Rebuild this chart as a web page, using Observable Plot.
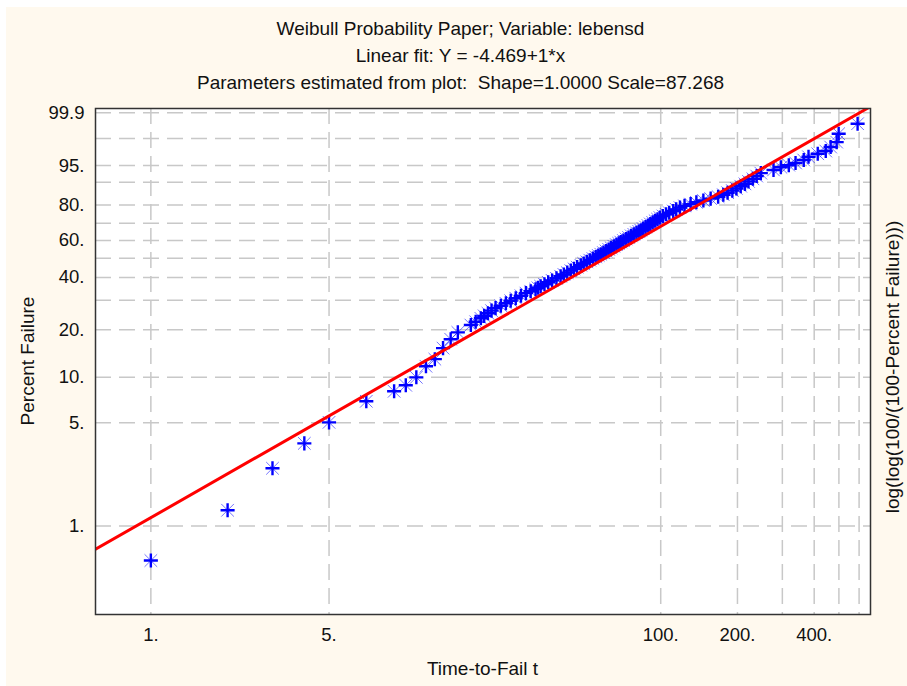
<!DOCTYPE html>
<html>
<head>
<meta charset="utf-8">
<script src="https://cdn.jsdelivr.net/npm/d3@7"></script>
<script src="https://cdn.jsdelivr.net/npm/@observablehq/plot@0.6"></script>
<style>
  body { margin: 0; background: #ffffff; }
  #wrap { position: relative; width: 907px; height: 686px; font-family: "Liberation Sans", Arial, sans-serif; color: #111; overflow: hidden; }
  #panel { position: absolute; left: 6px; top: 7px; right: 0; bottom: 0; background: #fff9ee; }
  .title { position: absolute; left: 0; width: 921px; text-align: center; font-size: 19px; line-height: 19px; white-space: pre; }
  .lab { position: absolute; font-size: 19px; line-height: 19px; white-space: nowrap; transform: translate(-50%, -50%) rotate(-90deg); }
  #xlab { position: absolute; left: 0; width: 965px; top: 659px; text-align: center; font-size: 19px; line-height: 19px; }
  #chart { position: absolute; left: 0; top: 0; }
</style>
</head>
<body>
<div id="wrap">
  <div id="panel"></div>
  <div class="title" style="top:18.9px">Weibull Probability Paper; Variable: lebensd</div>
  <div class="title" style="top:46.4px">Linear fit: Y = -4.469+1*x</div>
  <div class="title" style="top:73.4px">Parameters estimated from plot:  Shape=1.0000 Scale=87.268</div>
  <div class="lab" style="left:27px; top:361px">Percent Failure</div>
  <div class="lab" style="left:892px; top:367px">log(log(100/(100-Percent Failure)))</div>
  <div id="xlab">Time-to-Fail t</div>
  <div id="chart"></div>
</div>
<script>
const time = [
  1, 2, 3, 4, 5, 7, 9, 10, 11, 12, 13, 14, 15, 16, 18,
  18.8, 19.7, 20.3, 21.0, 21.7, 22.5, 23.6, 24.7, 25.8, 27.0, 28.3, 29.6, 30.9, 32.3,
  33.0, 33.8, 35.0, 36.2, 37.5, 39.0, 40.5, 41.7, 43.0, 44.4, 45.7, 47.0, 48.6,
  49.9, 51.3, 52.7, 54.2, 55.6, 56.9, 58.2, 59.6, 61.0, 62.5, 63.9, 65.5, 67.0, 68.4, 69.7,
  71.4, 73.1, 74.8, 76.6, 78.4, 80.3, 82.0, 83.5, 85.3, 87.2, 89.1, 91.0, 93.0, 95.1, 97.2, 99.3,
  102, 105, 108, 112, 115, 119, 124, 131, 138, 147, 157, 168,
  176, 183, 191, 198, 206, 214, 221, 230, 238, 247,
  277, 296, 318, 338, 364, 380, 413, 444, 464, 490, 499, 592
];
const percent = [
  0.58, 1.28, 2.47, 3.64, 5.04, 6.96, 8.10, 8.87, 10.0, 11.8, 13.1, 15.4, 17.5, 19.3, 21.4,
  22.4, 23.5, 24.3, 25.2, 26.1, 27.0, 27.9, 28.8, 29.8, 30.8, 31.8, 32.9, 33.7, 34.6,
  35.2, 35.9, 36.8, 37.7, 38.6, 39.6, 40.6, 41.5, 42.4, 43.4, 44.3, 45.2, 46.2,
  47.1, 48.0, 48.9, 49.8, 50.7, 51.5, 52.2, 53.1, 54.0, 54.9, 55.8, 56.7, 57.6, 58.4, 59.1,
  60.0, 60.9, 61.8, 62.7, 63.6, 64.5, 65.3, 66.0, 66.9, 67.8, 68.7, 69.6, 70.5, 71.4, 72.3, 73.2,
  74.1, 75.0, 75.9, 76.8, 77.7, 78.6, 79.5, 80.4, 81.3, 82.2, 83.1, 84.0,
  84.9, 85.8, 86.7, 87.6, 88.5, 89.4, 90.3, 91.2, 92.1, 93.0,
  93.9, 94.6, 95.1, 95.6, 96.2, 96.8, 97.3, 97.7, 98.2, 98.7, 99.3, 99.7
];

// Linear fit: Y = -4.469 + 1*x  (x = ln t, Y = ln(ln(100/(100-P))))
const fitIntercept = -4.469;
const fitSlope = 1;

// Axis ticks and grid
const tickTime = [1, 5, 100, 200, 400];
const tickTimeLabels = ["1.", "5.", "100.", "200.", "400."];
const gridTime = [1, 5, 100, 200, 300, 400, 500, 600];
const tickPercent = [99.9, 95, 80, 60, 40, 20, 10, 5, 1];
const tickPercentLabels = ["99.9", "95.", "80.", "60.", "40.", "20.", "10.", "5.", "1."];
const gridPercent = [99.9, 99, 95, 90, 80, 70, 60, 50, 40, 30, 20, 10, 5, 1];

const W = p => Math.log(Math.log(100 / (100 - p)));
const points = time.map((t, i) => ({ t, w: W(percent[i]) }));
const xDomain = [Math.exp(-0.5), Math.exp(6.5)];
const fitLine = xDomain.map(t => ({ t, w: fitIntercept + fitSlope * Math.log(t) }));

const xTickData = tickTime.map((t, i) => ({ t, label: tickTimeLabels[i] }));
const yTickData = tickPercent.map((p, i) => ({ w: W(p), label: tickPercentLabels[i] }));

const grid = { stroke: "#c8c8c8", strokeWidth: 1.5, strokeDasharray: "16,8" };

const chart = Plot.plot({
  width: 907,
  height: 686,
  marginLeft: 95,
  marginRight: 37,
  marginTop: 108,
  marginBottom: 72,
  style: { background: "transparent", fontFamily: "Liberation Sans, Arial, sans-serif", fontSize: "18.5px", color: "#111", overflow: "visible" },
  x: { type: "log", domain: xDomain, label: null, axis: null },
  y: { domain: [-6, 2], label: null, axis: null },
  marks: [
    Plot.frame({ fill: "white", stroke: null }),
    Plot.ruleX(gridTime, grid),
    Plot.ruleY(gridPercent.map(W), grid),
    Plot.text(xTickData, { x: "t", text: "label", frameAnchor: "bottom", lineAnchor: "top", dy: 13, fontSize: 18.5, fill: "#111" }),
    Plot.text(yTickData, { y: "w", text: "label", frameAnchor: "left", textAnchor: "end", dx: -11, fontSize: 18.5, fill: "#111" }),
    Plot.dot(points, { x: "t", y: "w", symbol: "times", r: 5.8, stroke: "#0000ff", strokeWidth: 1, strokeOpacity: 0.55, fill: "none" }),
    Plot.dot(points, { x: "t", y: "w", symbol: "plus", r: 4.6, stroke: "#0000ff", strokeWidth: 2.4, fill: "none" }),
    Plot.line(fitLine, { x: "t", y: "w", stroke: "#ff0000", strokeWidth: 3, clip: true }),
    Plot.frame({ stroke: "#333333", strokeWidth: 1.5 })
  ]
});
document.getElementById("chart").appendChild(chart);
</script>
</body>
</html>
